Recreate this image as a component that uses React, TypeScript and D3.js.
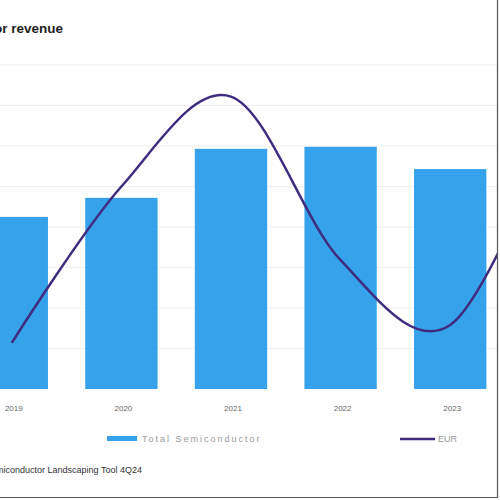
import * as d3 from "d3"

// chart values (cropped combo chart)
const years = ["2019", "2020", "2021", "2022", "2023", "2024"]
const barValues = [425, 472, 593, 598, 543, 560]
const lineValues = [114, 500, 722, 318, 158, 680]
const gridTicks = [0, 100, 200, 300, 400, 500, 600, 700, 800]

const BAR_LABEL = "Total Semiconductor"
const LINE_LABEL = "EUR"
const TITLE = "Semiconductor revenue"
const SOURCE = "Source: Semiconductor Landscaping Tool 4Q24"

export default function App() {
  const width = 500
  const height = 500
  const baseline = 389

  const x = d3
    .scaleBand<string>()
    .domain(years)
    .range([-43, -43 + 109.6 * years.length])
    .paddingInner(0.34)
    .paddingOuter(0.17)

  const y = d3.scaleLinear().domain([0, 800]).range([baseline, 65])

  const cx = (yr: string) => (x(yr) || 0) + x.bandwidth() / 2

  // uniform Catmull-Rom through the yearly points
  const line = d3
    .line<number>()
    .x((_, i) => cx(years[i]))
    .y((d) => y(d))
    .curve(d3.curveCatmullRom.alpha(0))

  const font = "'Liberation Sans', Arial, Helvetica, sans-serif"

  return (
    <div style={{ position: "fixed", left: 0, top: 0 }}>
      <svg width={width} height={height} style={{ display: "block", background: "#fff" }}>
        <defs>
          <clipPath id="frame">
            <rect x={0} y={0} width={497} height={497} />
          </clipPath>
        </defs>
        <g clipPath="url(#frame)">
          {/* title, cut off at the left edge */}
          <text x={63} y={33} textAnchor="end" fontFamily={font} fontSize={13.5} fontWeight="bold" fill="#222">
            {TITLE}
          </text>

          {/* grid */}
          {gridTicks.slice(1).map((t) => (
            <line key={t} x1={0} x2={497} y1={y(t)} y2={y(t)} stroke="#eeeeee" strokeWidth={1} />
          ))}

          {/* bars */}
          {years.map((yr, i) => (
            <rect
              key={yr}
              x={x(yr)}
              y={y(barValues[i])}
              width={x.bandwidth()}
              height={baseline - y(barValues[i])}
              fill="#36a2eb"
            />
          ))}

          {/* line */}
          <path d={line(lineValues) || ""} fill="none" stroke="#3f2c7e" strokeWidth={2.5} />

          {/* x labels */}
          {years.map((yr) => (
            <text
              key={yr}
              x={cx(yr) + 2}
              y={411}
              textAnchor="middle"
              fontFamily={font}
              fontSize={8}
              fill="#666"
            >
              {yr}
            </text>
          ))}

          {/* legend */}
          <rect x={107} y={436} width={30} height={5} fill="#36a2eb" />
          <text x={142} y={442} fontFamily={font} fontSize={9} letterSpacing={2} fill="#999">
            {BAR_LABEL}
          </text>
          <line x1={400} x2={435} y1={439} y2={439} stroke="#3f2c7e" strokeWidth={2.5} />
          <text x={438} y={442} fontFamily={font} fontSize={9} fill="#999">
            {LINE_LABEL}
          </text>

          {/* source */}
          <text x={142} y={473} textAnchor="end" fontFamily={font} fontSize={9} fill="#333">
            {SOURCE}
          </text>
        </g>
        <line x1={497.5} x2={497.5} y1={0} y2={498} stroke="#555" strokeWidth={1.2} />
        <line x1={0} x2={498} y1={497.5} y2={497.5} stroke="#555" strokeWidth={1.2} />
      </svg>
    </div>
  )
}
